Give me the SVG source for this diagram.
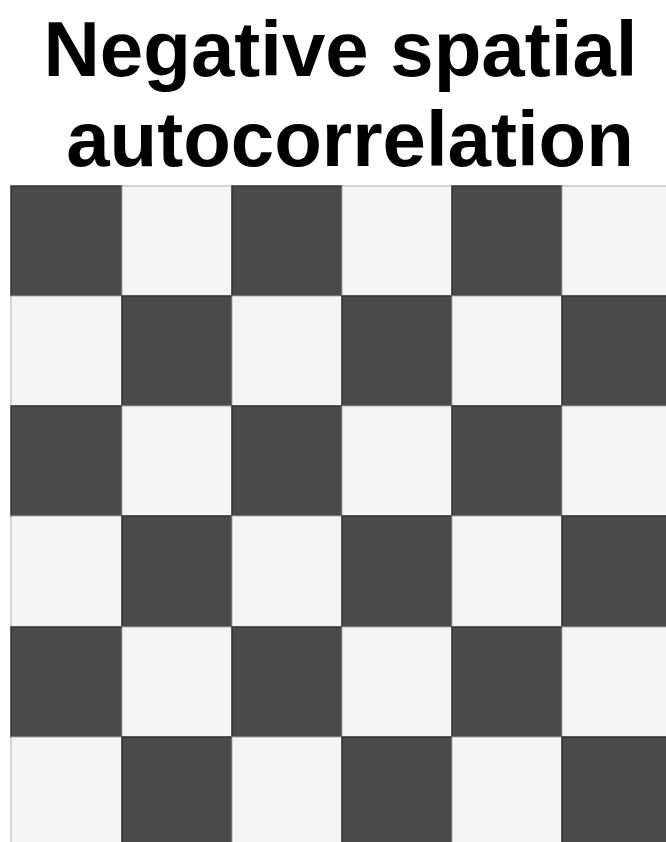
<svg xmlns="http://www.w3.org/2000/svg" width="666" height="842" viewBox="0 0 666 842">
<style>
.t{font-family:"Liberation Sans",Arial,sans-serif;font-weight:bold;font-size:78px;fill:#000;text-anchor:middle}
.d{fill:#4a4a4a;stroke:#333;stroke-width:1.5}
.l{fill:#f5f5f5;stroke:#b0b0b0;stroke-width:1}
</style>
<rect width="666" height="842" fill="#fff"/>
<g id="title">
<text class="t" x="340.5" y="76">Negative spatial</text>
<text class="t" x="350" y="166">autocorrelation</text>
</g>
<g id="grid">
<rect class="d" x="11" y="186" width="111" height="110"/>
<rect class="l" x="122" y="186" width="110" height="110"/>
<rect class="d" x="232" y="186" width="110" height="110"/>
<rect class="l" x="342" y="186" width="110" height="110"/>
<rect class="d" x="452" y="186" width="110" height="110"/>
<rect class="l" x="562" y="186" width="110" height="110"/>
<rect class="l" x="11" y="296" width="111" height="110"/>
<rect class="d" x="122" y="296" width="110" height="110"/>
<rect class="l" x="232" y="296" width="110" height="110"/>
<rect class="d" x="342" y="296" width="110" height="110"/>
<rect class="l" x="452" y="296" width="110" height="110"/>
<rect class="d" x="562" y="296" width="110" height="110"/>
<rect class="d" x="11" y="406" width="111" height="110"/>
<rect class="l" x="122" y="406" width="110" height="110"/>
<rect class="d" x="232" y="406" width="110" height="110"/>
<rect class="l" x="342" y="406" width="110" height="110"/>
<rect class="d" x="452" y="406" width="110" height="110"/>
<rect class="l" x="562" y="406" width="110" height="110"/>
<rect class="l" x="11" y="516" width="111" height="111"/>
<rect class="d" x="122" y="516" width="110" height="111"/>
<rect class="l" x="232" y="516" width="110" height="111"/>
<rect class="d" x="342" y="516" width="110" height="111"/>
<rect class="l" x="452" y="516" width="110" height="111"/>
<rect class="d" x="562" y="516" width="110" height="111"/>
<rect class="d" x="11" y="627" width="111" height="110"/>
<rect class="l" x="122" y="627" width="110" height="110"/>
<rect class="d" x="232" y="627" width="110" height="110"/>
<rect class="l" x="342" y="627" width="110" height="110"/>
<rect class="d" x="452" y="627" width="110" height="110"/>
<rect class="l" x="562" y="627" width="110" height="110"/>
<rect class="l" x="11" y="737" width="111" height="110"/>
<rect class="d" x="122" y="737" width="110" height="110"/>
<rect class="l" x="232" y="737" width="110" height="110"/>
<rect class="d" x="342" y="737" width="110" height="110"/>
<rect class="l" x="452" y="737" width="110" height="110"/>
<rect class="d" x="562" y="737" width="110" height="110"/>
</g>
</svg>
